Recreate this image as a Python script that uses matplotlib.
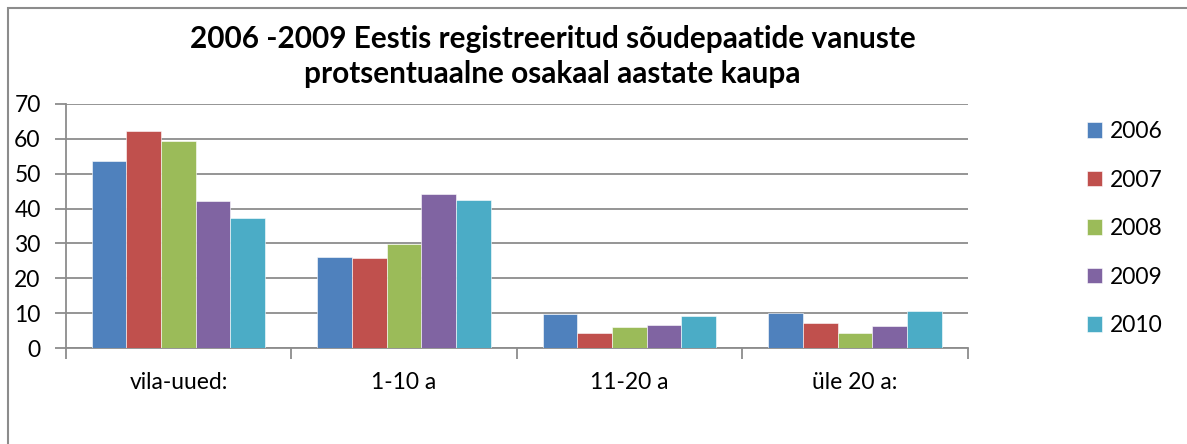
import matplotlib.pyplot as plt
import numpy as np
from matplotlib.patches import Rectangle

# Data
categories = ['vila-uued:', '1-10 a', '11-20 a', 'üle 20 a:']
years = ['2006', '2007', '2008', '2009', '2010']
v2006 = [53.7, 26.2, 9.8, 9.9]
v2007 = [62.3, 25.7, 4.4, 7.2]
v2008 = [59.5, 29.7, 6.1, 4.2]
v2009 = [42.2, 44.3, 6.6, 6.3]
v2010 = [37.4, 42.5, 9.1, 10.5]
colors = ['#4F81BD', '#C0504D', '#9BBB59', '#8064A2', '#4BACC6']

plt.rcParams['font.family'] = ['Lato', 'DejaVu Sans']

W, H = 1187, 444
fig = plt.figure(figsize=(W / 100, H / 100), dpi=100)
ax = fig.add_axes([65.7 / W, 1 - 348 / H, (967.7 - 65.7) / W, (348 - 104) / H])

series = [v2006, v2007, v2008, v2009, v2010]
x = np.arange(len(categories))
bw = 0.1537
for i, (vals, col, yr) in enumerate(zip(series, colors, years)):
    ax.bar(x + (i - 2) * bw, vals, bw, color=col, label=yr,
           edgecolor='white', linewidth=0.4, zorder=3)

ax.set_xlim(-0.5, len(categories) - 0.5)
ax.set_ylim(0, 70)
ax.set_yticks(range(0, 71, 10))
ax.yaxis.grid(True, color='#8c8c8c', linewidth=1.3, zorder=0)
ax.set_xticks(x)
ax.set_xticklabels(categories, fontsize=16.5)
ax.set_xticks(np.arange(-0.5, len(categories), 1), minor=True)
ax.tick_params(axis='x', which='major', length=0, pad=17)
ax.tick_params(axis='x', which='minor', length=8, width=1.3, color='#8c8c8c')
ax.tick_params(axis='y', length=8, width=1.3, color='#8c8c8c', labelsize=16.5, pad=10)
for s in ['top', 'right']:
    ax.spines[s].set_visible(False)
for s in ['left', 'bottom']:
    ax.spines[s].set_color('#8c8c8c')
    ax.spines[s].set_linewidth(1.3)

leg = fig.legend(loc='upper left', bbox_to_anchor=(1078 / W, 1 - 112 / H),
                 frameon=False, fontsize=16.5, handlelength=0.65, handleheight=0.65,
                 handletextpad=0.35, labelspacing=1.2, borderaxespad=0)

fig.text(552.5 / W, 1 - 39 / H, '2006 -2009 Eestis registreeritud sõudepaatide vanuste',
         ha='center', va='center', fontsize=21.4, fontweight='bold')
fig.text(552.5 / W, 1 - 74 / H, 'protsentuaalne osakaal aastate kaupa',
         ha='center', va='center', fontsize=21.4, fontweight='bold')

# chart area border
fig.patches.append(Rectangle((8 / W, -0.1), 1.2, 1 - 8 / H + 0.1, transform=fig.transFigure,
                             fill=False, edgecolor='#8c8c8c', linewidth=1.5))

fig.savefig('out.png', dpi=100, facecolor='white')
